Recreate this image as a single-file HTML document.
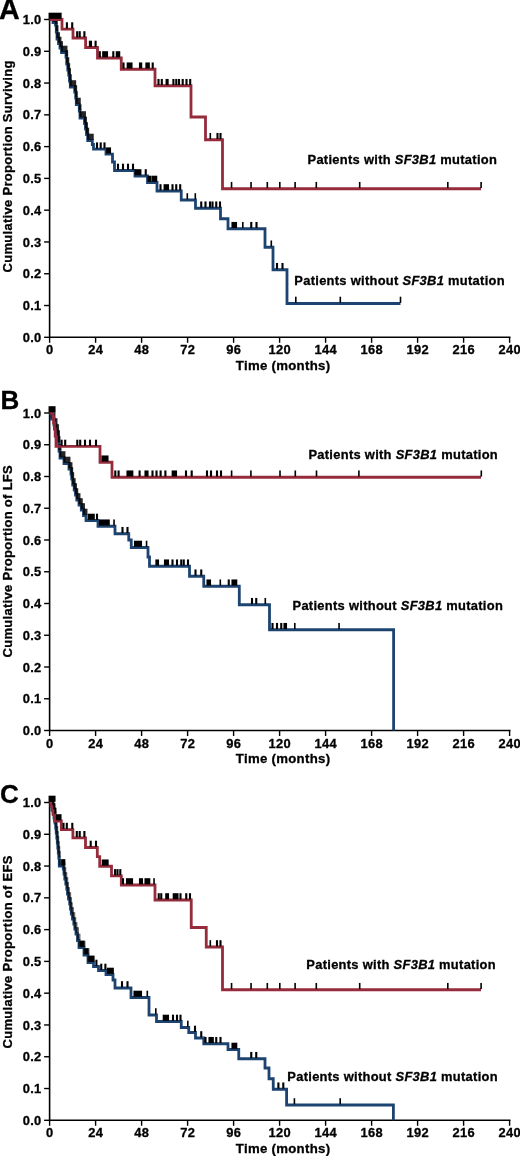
<!DOCTYPE html>
<html><head><meta charset="utf-8"><title>Kaplan-Meier curves</title>
<style>
html,body{margin:0;padding:0;background:#fff;}
svg{display:block;will-change:transform;font-family:"Liberation Sans",sans-serif;font-weight:bold;fill:#000;}
text{stroke:#000;stroke-width:0.3px;paint-order:stroke;}
.tl{font-size:12.9px;letter-spacing:0.3px;}
.al{font-size:13px;letter-spacing:0.3px;}
.lg{font-size:12.9px;letter-spacing:0.3px;}
.pl{font-size:26px;}
</style></head><body>
<svg width="520" height="1156" viewBox="0 0 520 1156">
<rect width="520" height="1156" fill="#fff"/>
<g>
<g stroke="#000" stroke-width="1.6" fill="none">
<path d="M49.60,18.60V337.30H510.50"/>
</g><g stroke="#000" stroke-width="1.4" fill="none">
<path d="M44.10,19.50H49.60"/>
<path d="M44.10,51.28H49.60"/>
<path d="M44.10,83.06H49.60"/>
<path d="M44.10,114.84H49.60"/>
<path d="M44.10,146.62H49.60"/>
<path d="M44.10,178.40H49.60"/>
<path d="M44.10,210.18H49.60"/>
<path d="M44.10,241.96H49.60"/>
<path d="M44.10,273.74H49.60"/>
<path d="M44.10,305.52H49.60"/>
<path d="M44.10,337.30H49.60"/>
<path d="M49.60,337.30V342.80"/>
<path d="M95.60,337.30V342.80"/>
<path d="M141.60,337.30V342.80"/>
<path d="M187.60,337.30V342.80"/>
<path d="M233.60,337.30V342.80"/>
<path d="M279.60,337.30V342.80"/>
<path d="M325.60,337.30V342.80"/>
<path d="M371.60,337.30V342.80"/>
<path d="M417.60,337.30V342.80"/>
<path d="M463.60,337.30V342.80"/>
<path d="M509.60,337.30V342.80"/>
</g>
<g class="tl" text-anchor="end">
<text x="41.50" y="24.05">1.0</text>
<text x="41.50" y="55.83">0.9</text>
<text x="41.50" y="87.61">0.8</text>
<text x="41.50" y="119.39">0.7</text>
<text x="41.50" y="151.17">0.6</text>
<text x="41.50" y="182.95">0.5</text>
<text x="41.50" y="214.73">0.4</text>
<text x="41.50" y="246.51">0.3</text>
<text x="41.50" y="278.29">0.2</text>
<text x="41.50" y="310.07">0.1</text>
<text x="41.50" y="341.85">0.0</text>
</g><g class="tl" text-anchor="middle">
<text x="49.80" y="354.30">0</text>
<text x="95.80" y="354.30">24</text>
<text x="141.80" y="354.30">48</text>
<text x="187.80" y="354.30">72</text>
<text x="233.80" y="354.30">96</text>
<text x="279.80" y="354.30">120</text>
<text x="325.80" y="354.30">144</text>
<text x="371.80" y="354.30">168</text>
<text x="417.80" y="354.30">192</text>
<text x="463.80" y="354.30">216</text>
<text x="509.80" y="354.30">240</text>
</g>
<text class="al" style="font-size:13.2px" text-anchor="middle" x="283.1" y="369.80">Time (months)</text>
<text class="al" text-anchor="middle" transform="translate(12.4,166.4) rotate(-90)">Cumulative Proportion Surviving</text>
<text class="pl" style="font-size:28.7px" x="-1" y="18.5">A</text>
<path d="M49.60,19.50H53.00V22.50H55.50V25.00H56.30V32.00H57.00V39.00H58.50V43.50H60.00V48.00H61.50V52.50H66.00V57.00H66.70V64.00H67.80V70.00H68.70V75.00H69.50V81.00H70.30V87.00H74.70V92.00H75.70V98.00H76.30V104.50H79.30V111.00H80.00V118.00H84.50V123.50H85.50V129.00H86.50V134.50H87.70V140.50H92.30V144.50H93.50V149.20H106.00V154.20H112.50V162.00H114.50V170.50H135.00V176.00H147.50V182.50H157.00V191.00H181.25V200.00H195.50V208.25H220.50V218.75H228.00V228.75H265.00V247.25H273.00V269.75H287.00V303.50H400.50V303.50" stroke="#1d4470" stroke-width="2.8" fill="none"/>
<g fill="#000" fill-opacity="0.85"><rect x="52.40" y="15.70" width="4.55" height="6.1"/>
<rect x="54.90" y="18.20" width="2.85" height="6.1"/>
<rect x="55.70" y="25.20" width="2.75" height="6.1"/>
<rect x="56.40" y="32.20" width="3.55" height="6.1"/>
<rect x="57.90" y="36.70" width="3.55" height="6.1"/>
<rect x="59.40" y="41.20" width="3.55" height="6.1"/>
<rect x="60.90" y="45.70" width="6.55" height="6.1"/>
<rect x="65.40" y="50.20" width="2.75" height="6.1"/>
<rect x="66.10" y="57.20" width="3.15" height="6.1"/>
<rect x="67.20" y="63.20" width="2.95" height="6.1"/>
<rect x="68.10" y="68.20" width="2.85" height="6.1"/>
<rect x="68.90" y="74.20" width="2.85" height="6.1"/>
<rect x="69.70" y="80.20" width="6.45" height="6.1"/>
<rect x="74.10" y="85.20" width="3.05" height="6.1"/>
<rect x="75.10" y="91.20" width="2.65" height="6.1"/>
<rect x="75.70" y="97.70" width="5.05" height="6.1"/>
<rect x="78.70" y="104.20" width="2.75" height="6.1"/>
<rect x="79.40" y="111.20" width="6.55" height="6.1"/>
<rect x="83.90" y="116.70" width="3.05" height="6.1"/>
<rect x="84.90" y="122.20" width="3.05" height="6.1"/>
<rect x="85.90" y="127.70" width="3.25" height="6.1"/>
<rect x="87.10" y="133.70" width="6.65" height="6.1"/></g>
<g fill="#000"><rect x="95.95" y="142.40" width="2.1" height="6.1"/>
<rect x="99.65" y="142.40" width="2.1" height="6.1"/>
<rect x="103.45" y="142.40" width="2.1" height="6.1"/>
<rect x="106.15" y="147.40" width="4.90" height="6.1"/>
<rect x="116.95" y="163.70" width="2.1" height="6.1"/>
<rect x="121.95" y="163.70" width="2.1" height="6.1"/>
<rect x="126.95" y="163.70" width="2.1" height="6.1"/>
<rect x="131.95" y="163.70" width="2.1" height="6.1"/>
<rect x="134.55" y="169.20" width="6.90" height="6.1"/>
<rect x="144.70" y="169.20" width="2.1" height="6.1"/>
<rect x="147.55" y="175.70" width="3.50" height="6.1"/>
<rect x="151.35" y="175.70" width="5.90" height="6.1"/>
<rect x="159.45" y="184.20" width="2.1" height="6.1"/>
<rect x="163.55" y="184.20" width="5.50" height="6.1"/>
<rect x="171.45" y="184.20" width="2.1" height="6.1"/>
<rect x="175.20" y="184.20" width="2.1" height="6.1"/>
<rect x="179.15" y="184.20" width="2.1" height="6.1"/>
<rect x="186.50" y="193.20" width="1.6" height="6.1"/>
<rect x="194.50" y="193.20" width="1.6" height="6.1"/>
<rect x="200.20" y="201.45" width="2.1" height="6.1"/>
<rect x="204.45" y="201.45" width="2.1" height="6.1"/>
<rect x="208.95" y="201.45" width="2.1" height="6.1"/>
<rect x="211.45" y="201.45" width="2.1" height="6.1"/>
<rect x="215.20" y="201.45" width="2.1" height="6.1"/>
<rect x="218.95" y="201.45" width="2.1" height="6.1"/>
<rect x="231.45" y="221.95" width="5.60" height="6.1"/>
<rect x="242.00" y="221.95" width="1.6" height="6.1"/>
<rect x="250.20" y="221.95" width="2.1" height="6.1"/>
<rect x="255.45" y="221.95" width="2.1" height="6.1"/>
<rect x="270.50" y="240.45" width="1.6" height="6.1"/>
<rect x="275.95" y="262.95" width="2.1" height="6.1"/>
<rect x="281.45" y="262.95" width="2.1" height="6.1"/>
<rect x="295.00" y="296.70" width="1.6" height="6.1"/>
<rect x="339.50" y="296.70" width="1.6" height="6.1"/>
<rect x="399.70" y="296.70" width="1.6" height="6.1"/></g>
<path d="M49.60,19.50H62.00V29.10H73.00V38.00H85.60V47.50H97.50V58.00H121.25V69.25H155.00V85.75H191.00V117.00H205.50V139.75H222.50V188.75H481.00V188.75" stroke="#962b3c" stroke-width="2.8" fill="none"/>
<g fill="#000"><rect x="48.55" y="12.70" width="13.10" height="6.1"/>
<rect x="65.85" y="22.30" width="2.1" height="6.1"/>
<rect x="71.15" y="22.30" width="2.1" height="6.1"/>
<rect x="76.15" y="31.20" width="2.1" height="6.1"/>
<rect x="78.65" y="31.20" width="2.1" height="6.1"/>
<rect x="83.35" y="31.20" width="2.1" height="6.1"/>
<rect x="88.85" y="40.70" width="3.20" height="6.1"/>
<rect x="94.55" y="40.70" width="2.1" height="6.1"/>
<rect x="98.75" y="51.20" width="2.1" height="6.1"/>
<rect x="102.15" y="51.20" width="5.90" height="6.1"/>
<rect x="112.25" y="51.20" width="2.1" height="6.1"/>
<rect x="115.75" y="51.20" width="4.50" height="6.1"/>
<rect x="122.45" y="62.45" width="2.1" height="6.1"/>
<rect x="126.65" y="62.45" width="5.90" height="6.1"/>
<rect x="138.95" y="62.45" width="3.30" height="6.1"/>
<rect x="145.35" y="62.45" width="4.50" height="6.1"/>
<rect x="151.65" y="62.45" width="2.1" height="6.1"/>
<rect x="157.45" y="78.95" width="2.1" height="6.1"/>
<rect x="160.75" y="78.95" width="2.1" height="6.1"/>
<rect x="165.55" y="78.95" width="3.10" height="6.1"/>
<rect x="172.35" y="78.95" width="2.1" height="6.1"/>
<rect x="175.25" y="78.95" width="2.1" height="6.1"/>
<rect x="177.95" y="78.95" width="2.1" height="6.1"/>
<rect x="181.65" y="78.95" width="2.1" height="6.1"/>
<rect x="185.45" y="78.95" width="2.1" height="6.1"/>
<rect x="189.15" y="78.95" width="2.1" height="6.1"/>
<rect x="209.50" y="132.95" width="1.6" height="6.1"/>
<rect x="216.45" y="132.95" width="2.1" height="6.1"/>
<rect x="219.45" y="132.95" width="2.1" height="6.1"/>
<rect x="230.75" y="181.95" width="1.6" height="6.1"/>
<rect x="250.25" y="181.95" width="1.6" height="6.1"/>
<rect x="266.50" y="181.95" width="1.6" height="6.1"/>
<rect x="279.00" y="181.95" width="1.6" height="6.1"/>
<rect x="294.30" y="181.95" width="1.6" height="6.1"/>
<rect x="315.50" y="181.95" width="1.6" height="6.1"/>
<rect x="358.90" y="181.95" width="1.6" height="6.1"/>
<rect x="447.00" y="181.95" width="1.6" height="6.1"/>
<rect x="480.30" y="181.95" width="1.6" height="6.1"/></g>
<text class="lg" x="307.5" y="164.2">Patients with <tspan font-style="italic">SF3B1</tspan> mutation</text>
<text class="lg" x="294.3" y="285.0">Patients without <tspan font-style="italic">SF3B1</tspan> mutation</text>
<g stroke="#000" stroke-width="1.6" fill="none">
<path d="M49.60,412.10V730.50H510.50"/>
</g><g stroke="#000" stroke-width="1.4" fill="none">
<path d="M44.10,413.00H49.60"/>
<path d="M44.10,444.75H49.60"/>
<path d="M44.10,476.50H49.60"/>
<path d="M44.10,508.25H49.60"/>
<path d="M44.10,540.00H49.60"/>
<path d="M44.10,571.75H49.60"/>
<path d="M44.10,603.50H49.60"/>
<path d="M44.10,635.25H49.60"/>
<path d="M44.10,667.00H49.60"/>
<path d="M44.10,698.75H49.60"/>
<path d="M44.10,730.50H49.60"/>
<path d="M49.60,730.50V736.00"/>
<path d="M95.60,730.50V736.00"/>
<path d="M141.60,730.50V736.00"/>
<path d="M187.60,730.50V736.00"/>
<path d="M233.60,730.50V736.00"/>
<path d="M279.60,730.50V736.00"/>
<path d="M325.60,730.50V736.00"/>
<path d="M371.60,730.50V736.00"/>
<path d="M417.60,730.50V736.00"/>
<path d="M463.60,730.50V736.00"/>
<path d="M509.60,730.50V736.00"/>
</g>
<g class="tl" text-anchor="end">
<text x="41.50" y="417.55">1.0</text>
<text x="41.50" y="449.30">0.9</text>
<text x="41.50" y="481.05">0.8</text>
<text x="41.50" y="512.80">0.7</text>
<text x="41.50" y="544.55">0.6</text>
<text x="41.50" y="576.30">0.5</text>
<text x="41.50" y="608.05">0.4</text>
<text x="41.50" y="639.80">0.3</text>
<text x="41.50" y="671.55">0.2</text>
<text x="41.50" y="703.30">0.1</text>
<text x="41.50" y="735.05">0.0</text>
</g><g class="tl" text-anchor="middle">
<text x="49.80" y="747.50">0</text>
<text x="95.80" y="747.50">24</text>
<text x="141.80" y="747.50">48</text>
<text x="187.80" y="747.50">72</text>
<text x="233.80" y="747.50">96</text>
<text x="279.80" y="747.50">120</text>
<text x="325.80" y="747.50">144</text>
<text x="371.80" y="747.50">168</text>
<text x="417.80" y="747.50">192</text>
<text x="463.80" y="747.50">216</text>
<text x="509.80" y="747.50">240</text>
</g>
<text class="al" style="font-size:13.2px" text-anchor="middle" x="283.1" y="763.00">Time (months)</text>
<text class="al" text-anchor="middle" transform="translate(12.4,561.2) rotate(-90)">Cumulative Proportion of LFS</text>
<text class="pl" x="0.6" y="408.7">B</text>
<path d="M49.60,413.00H51.30V419.00H54.00V425.00H56.00V431.00H57.50V437.00H58.50V443.00H59.00V451.00H60.00V458.00H64.00V463.50H69.00V469.00H71.00V474.00H71.70V479.00H72.70V485.00H74.20V490.00H75.50V495.00H76.80V500.00H79.00V505.00H81.30V510.00H83.50V515.50H86.00V520.50H98.00V526.25H115.00V533.75H128.75V540.00H131.25V547.50H148.00V557.00H149.50V566.25H189.50V576.25H203.75V586.25H239.30V604.75H269.50V629.75H393.60V730.50" stroke="#1d4470" stroke-width="2.8" fill="none"/>
<g fill="#000" fill-opacity="0.85"><rect x="50.70" y="412.20" width="4.75" height="6.1"/>
<rect x="53.40" y="418.20" width="4.05" height="6.1"/>
<rect x="55.40" y="424.20" width="3.55" height="6.1"/>
<rect x="56.90" y="430.20" width="3.05" height="6.1"/>
<rect x="57.90" y="436.20" width="2.55" height="6.1"/>
<rect x="58.40" y="444.20" width="3.05" height="6.1"/>
<rect x="59.40" y="451.20" width="6.05" height="6.1"/>
<rect x="63.40" y="456.70" width="7.05" height="6.1"/>
<rect x="68.40" y="462.20" width="4.05" height="6.1"/>
<rect x="70.40" y="467.20" width="2.75" height="6.1"/>
<rect x="71.10" y="472.20" width="3.05" height="6.1"/>
<rect x="72.10" y="478.20" width="3.55" height="6.1"/>
<rect x="73.60" y="483.20" width="3.35" height="6.1"/>
<rect x="74.90" y="488.20" width="3.35" height="6.1"/>
<rect x="76.20" y="493.20" width="4.25" height="6.1"/>
<rect x="78.40" y="498.20" width="4.35" height="6.1"/>
<rect x="80.70" y="503.20" width="4.25" height="6.1"/>
<rect x="82.90" y="508.70" width="4.55" height="6.1"/></g>
<g fill="#000"><rect x="87.70" y="513.70" width="7.10" height="6.1"/>
<rect x="95.95" y="513.70" width="2.1" height="6.1"/>
<rect x="98.95" y="519.45" width="10.85" height="6.1"/>
<rect x="113.25" y="519.45" width="1.6" height="6.1"/>
<rect x="121.45" y="526.95" width="2.1" height="6.1"/>
<rect x="126.45" y="526.95" width="2.1" height="6.1"/>
<rect x="133.95" y="540.70" width="8.10" height="6.1"/>
<rect x="145.75" y="540.70" width="1.6" height="6.1"/>
<rect x="155.35" y="559.45" width="3.70" height="6.1"/>
<rect x="163.95" y="559.45" width="5.10" height="6.1"/>
<rect x="171.45" y="559.45" width="2.1" height="6.1"/>
<rect x="175.95" y="559.45" width="2.1" height="6.1"/>
<rect x="180.20" y="559.45" width="2.1" height="6.1"/>
<rect x="182.70" y="559.45" width="2.1" height="6.1"/>
<rect x="186.95" y="559.45" width="2.1" height="6.1"/>
<rect x="194.45" y="569.45" width="2.1" height="6.1"/>
<rect x="200.20" y="569.45" width="2.1" height="6.1"/>
<rect x="206.45" y="579.45" width="4.60" height="6.1"/>
<rect x="219.50" y="579.45" width="1.6" height="6.1"/>
<rect x="227.70" y="579.45" width="2.1" height="6.1"/>
<rect x="231.45" y="579.45" width="5.85" height="6.1"/>
<rect x="250.95" y="597.95" width="2.1" height="6.1"/>
<rect x="255.20" y="597.95" width="2.1" height="6.1"/>
<rect x="264.50" y="597.95" width="1.6" height="6.1"/>
<rect x="271.45" y="622.95" width="2.1" height="6.1"/>
<rect x="275.95" y="622.95" width="2.1" height="6.1"/>
<rect x="280.20" y="622.95" width="2.1" height="6.1"/>
<rect x="283.45" y="622.95" width="3.60" height="6.1"/>
<rect x="294.00" y="622.95" width="1.6" height="6.1"/>
<rect x="338.25" y="622.95" width="1.6" height="6.1"/></g>
<path d="M49.60,413.00H52.80V417.00H53.60V423.00H54.40V429.00H55.20V436.00H56.00V446.30H100.00V462.25H112.00V477.25H481.00V477.25" stroke="#962b3c" stroke-width="2.8" fill="none"/>
<g fill="#000"><rect x="48.55" y="406.20" width="7.00" height="6.1"/>
<rect x="60.55" y="439.70" width="2.1" height="6.1"/>
<rect x="64.15" y="439.70" width="2.1" height="6.1"/>
<rect x="76.25" y="439.70" width="2.1" height="6.1"/>
<rect x="79.15" y="439.70" width="2.1" height="6.1"/>
<rect x="83.95" y="439.70" width="2.1" height="6.1"/>
<rect x="88.95" y="439.70" width="2.1" height="6.1"/>
<rect x="94.95" y="439.70" width="2.1" height="6.1"/>
<rect x="101.45" y="455.45" width="7.10" height="6.1"/>
<rect x="114.25" y="470.45" width="2.1" height="6.1"/>
<rect x="117.55" y="470.45" width="2.1" height="6.1"/>
<rect x="126.45" y="470.45" width="6.90" height="6.1"/>
<rect x="138.55" y="470.45" width="2.1" height="6.1"/>
<rect x="144.45" y="470.45" width="4.10" height="6.1"/>
<rect x="151.45" y="470.45" width="2.1" height="6.1"/>
<rect x="155.45" y="470.45" width="2.1" height="6.1"/>
<rect x="159.55" y="470.45" width="2.1" height="6.1"/>
<rect x="164.35" y="470.45" width="2.1" height="6.1"/>
<rect x="171.65" y="470.45" width="5.40" height="6.1"/>
<rect x="184.95" y="470.45" width="2.1" height="6.1"/>
<rect x="190.65" y="470.45" width="2.1" height="6.1"/>
<rect x="205.95" y="470.45" width="2.1" height="6.1"/>
<rect x="209.95" y="470.45" width="2.1" height="6.1"/>
<rect x="215.95" y="470.45" width="2.1" height="6.1"/>
<rect x="219.95" y="470.45" width="2.1" height="6.1"/>
<rect x="230.80" y="470.45" width="1.6" height="6.1"/>
<rect x="250.10" y="470.45" width="1.6" height="6.1"/>
<rect x="279.20" y="470.45" width="1.6" height="6.1"/>
<rect x="294.50" y="470.45" width="1.6" height="6.1"/>
<rect x="315.70" y="470.45" width="1.6" height="6.1"/>
<rect x="358.10" y="470.45" width="1.6" height="6.1"/>
<rect x="480.50" y="470.45" width="1.6" height="6.1"/></g>
<text class="lg" x="308.4" y="458.7">Patients with <tspan font-style="italic">SF3B1</tspan> mutation</text>
<text class="lg" x="292.5" y="609.8">Patients without <tspan font-style="italic">SF3B1</tspan> mutation</text>
<g stroke="#000" stroke-width="1.6" fill="none">
<path d="M49.60,801.60V1120.30H510.50"/>
</g><g stroke="#000" stroke-width="1.4" fill="none">
<path d="M44.10,802.50H49.60"/>
<path d="M44.10,834.28H49.60"/>
<path d="M44.10,866.06H49.60"/>
<path d="M44.10,897.84H49.60"/>
<path d="M44.10,929.62H49.60"/>
<path d="M44.10,961.40H49.60"/>
<path d="M44.10,993.18H49.60"/>
<path d="M44.10,1024.96H49.60"/>
<path d="M44.10,1056.74H49.60"/>
<path d="M44.10,1088.52H49.60"/>
<path d="M44.10,1120.30H49.60"/>
<path d="M49.60,1120.30V1125.80"/>
<path d="M95.60,1120.30V1125.80"/>
<path d="M141.60,1120.30V1125.80"/>
<path d="M187.60,1120.30V1125.80"/>
<path d="M233.60,1120.30V1125.80"/>
<path d="M279.60,1120.30V1125.80"/>
<path d="M325.60,1120.30V1125.80"/>
<path d="M371.60,1120.30V1125.80"/>
<path d="M417.60,1120.30V1125.80"/>
<path d="M463.60,1120.30V1125.80"/>
<path d="M509.60,1120.30V1125.80"/>
</g>
<g class="tl" text-anchor="end">
<text x="41.50" y="807.05">1.0</text>
<text x="41.50" y="838.83">0.9</text>
<text x="41.50" y="870.61">0.8</text>
<text x="41.50" y="902.39">0.7</text>
<text x="41.50" y="934.17">0.6</text>
<text x="41.50" y="965.95">0.5</text>
<text x="41.50" y="997.73">0.4</text>
<text x="41.50" y="1029.51">0.3</text>
<text x="41.50" y="1061.29">0.2</text>
<text x="41.50" y="1093.07">0.1</text>
<text x="41.50" y="1124.85">0.0</text>
</g><g class="tl" text-anchor="middle">
<text x="49.80" y="1137.30">0</text>
<text x="95.80" y="1137.30">24</text>
<text x="141.80" y="1137.30">48</text>
<text x="187.80" y="1137.30">72</text>
<text x="233.80" y="1137.30">96</text>
<text x="279.80" y="1137.30">120</text>
<text x="325.80" y="1137.30">144</text>
<text x="371.80" y="1137.30">168</text>
<text x="417.80" y="1137.30">192</text>
<text x="463.80" y="1137.30">216</text>
<text x="509.80" y="1137.30">240</text>
</g>
<text class="al" style="font-size:13.2px" text-anchor="middle" x="283.1" y="1152.80">Time (months)</text>
<text class="al" text-anchor="middle" transform="translate(12.4,951.9) rotate(-90)">Cumulative Proportion of EFS</text>
<text class="pl" x="0.1" y="802.7">C</text>
<path d="M49.60,802.50H51.00V806.00H52.00V810.00H53.00V814.00H54.00V818.00H55.00V823.00H55.70V828.00H56.20V833.00H56.80V838.00H57.30V843.00H57.80V848.00H58.30V853.00H58.80V858.00H59.30V866.00H63.30V869.00H64.00V874.00H64.80V879.00H65.80V884.00H66.80V889.00H67.50V894.00H68.50V899.00H69.70V904.00H70.50V909.00H71.30V914.00H72.50V919.00H73.80V924.00H74.80V929.00H76.00V934.00H77.50V940.50H79.00V947.50H84.00V955.00H88.00V962.50H93.50V966.50H98.50V970.50H106.00V974.50H113.00V980.00H115.00V988.00H131.00V997.50H149.00V1015.00H156.50V1021.50H181.25V1027.50H188.75V1032.50H195.50V1038.00H203.75V1043.75H228.00V1049.50H238.75V1058.75H265.00V1068.00H269.00V1078.75H273.25V1089.25H286.60V1105.00H393.40V1120.30" stroke="#1d4470" stroke-width="2.8" fill="none"/>
<g fill="#000" fill-opacity="0.6"><rect x="50.40" y="799.20" width="3.05" height="6.1"/>
<rect x="51.40" y="803.20" width="3.05" height="6.1"/>
<rect x="52.40" y="807.20" width="3.05" height="6.1"/>
<rect x="53.40" y="811.20" width="3.05" height="6.1"/>
<rect x="54.40" y="816.20" width="2.75" height="6.1"/>
<rect x="55.10" y="821.20" width="2.55" height="6.1"/>
<rect x="55.60" y="826.20" width="2.65" height="6.1"/>
<rect x="56.20" y="831.20" width="2.55" height="6.1"/>
<rect x="56.70" y="836.20" width="2.55" height="6.1"/>
<rect x="57.20" y="841.20" width="2.55" height="6.1"/>
<rect x="57.70" y="846.20" width="2.55" height="6.1"/>
<rect x="58.20" y="851.20" width="2.55" height="6.1"/>
<rect x="58.70" y="859.20" width="6.05" height="6.1"/>
<rect x="62.70" y="862.20" width="2.75" height="6.1"/>
<rect x="63.40" y="867.20" width="2.85" height="6.1"/>
<rect x="64.20" y="872.20" width="3.05" height="6.1"/>
<rect x="65.20" y="877.20" width="3.05" height="6.1"/>
<rect x="66.20" y="882.20" width="2.75" height="6.1"/>
<rect x="66.90" y="887.20" width="3.05" height="6.1"/>
<rect x="67.90" y="892.20" width="3.25" height="6.1"/>
<rect x="69.10" y="897.20" width="2.85" height="6.1"/>
<rect x="69.90" y="902.20" width="2.85" height="6.1"/>
<rect x="70.70" y="907.20" width="3.25" height="6.1"/>
<rect x="71.90" y="912.20" width="3.35" height="6.1"/>
<rect x="73.20" y="917.20" width="3.05" height="6.1"/>
<rect x="74.20" y="922.20" width="3.25" height="6.1"/>
<rect x="75.40" y="927.20" width="3.55" height="6.1"/>
<rect x="76.90" y="933.70" width="3.55" height="6.1"/>
<rect x="78.40" y="940.70" width="7.05" height="6.1"/>
<rect x="83.40" y="948.20" width="6.05" height="6.1"/>
<rect x="87.40" y="955.70" width="7.55" height="6.1"/></g>
<g fill="#000"><rect x="61.25" y="859.20" width="4.10" height="6.1"/>
<rect x="79.95" y="940.70" width="4.60" height="6.1"/>
<rect x="84.45" y="948.20" width="4.10" height="6.1"/>
<rect x="88.45" y="955.70" width="5.60" height="6.1"/>
<rect x="95.35" y="959.70" width="2.1" height="6.1"/>
<rect x="100.20" y="963.70" width="2.1" height="6.1"/>
<rect x="104.35" y="963.70" width="2.1" height="6.1"/>
<rect x="106.95" y="967.70" width="6.90" height="6.1"/>
<rect x="120.95" y="981.20" width="2.1" height="6.1"/>
<rect x="126.45" y="981.20" width="2.1" height="6.1"/>
<rect x="133.45" y="990.70" width="8.60" height="6.1"/>
<rect x="146.50" y="990.70" width="1.6" height="6.1"/>
<rect x="155.00" y="1008.20" width="1.6" height="6.1"/>
<rect x="162.70" y="1014.70" width="6.35" height="6.1"/>
<rect x="171.95" y="1014.70" width="2.1" height="6.1"/>
<rect x="175.95" y="1014.70" width="2.1" height="6.1"/>
<rect x="179.45" y="1014.70" width="2.1" height="6.1"/>
<rect x="187.00" y="1020.70" width="1.6" height="6.1"/>
<rect x="193.95" y="1025.70" width="2.1" height="6.1"/>
<rect x="200.20" y="1031.20" width="2.1" height="6.1"/>
<rect x="204.45" y="1036.95" width="2.1" height="6.1"/>
<rect x="208.45" y="1036.95" width="3.60" height="6.1"/>
<rect x="211.75" y="1036.95" width="2.1" height="6.1"/>
<rect x="215.20" y="1036.95" width="2.1" height="6.1"/>
<rect x="219.45" y="1036.95" width="2.1" height="6.1"/>
<rect x="231.45" y="1042.70" width="5.85" height="6.1"/>
<rect x="250.20" y="1051.95" width="2.1" height="6.1"/>
<rect x="255.20" y="1051.95" width="2.1" height="6.1"/>
<rect x="277.35" y="1082.45" width="2.1" height="6.1"/>
<rect x="282.25" y="1082.45" width="2.1" height="6.1"/>
<rect x="293.60" y="1098.20" width="1.6" height="6.1"/>
<rect x="339.40" y="1098.20" width="1.6" height="6.1"/></g>
<path d="M49.60,802.50H51.50V806.00H52.50V810.00H53.50V814.50H54.50V821.00H61.30V829.60H72.90V837.80H85.50V847.50H97.30V856.60H99.70V866.25H111.50V875.90H121.30V885.00H155.00V900.00H191.25V927.50H206.25V947.00H222.50V989.75H481.00V989.75" stroke="#962b3c" stroke-width="2.8" fill="none"/>
<g fill="#000"><rect x="48.55" y="795.70" width="7.00" height="6.1"/>
<rect x="52.35" y="799.20" width="2.1" height="6.1"/>
<rect x="53.35" y="803.20" width="2.1" height="6.1"/>
<rect x="54.35" y="807.70" width="2.1" height="6.1"/>
<rect x="55.95" y="814.20" width="5.60" height="6.1"/>
<rect x="62.45" y="822.80" width="2.1" height="6.1"/>
<rect x="65.75" y="822.80" width="2.1" height="6.1"/>
<rect x="71.25" y="822.80" width="2.1" height="6.1"/>
<rect x="75.75" y="831.00" width="2.1" height="6.1"/>
<rect x="78.65" y="831.00" width="2.1" height="6.1"/>
<rect x="83.35" y="831.00" width="2.1" height="6.1"/>
<rect x="89.65" y="840.70" width="2.1" height="6.1"/>
<rect x="94.95" y="840.70" width="2.1" height="6.1"/>
<rect x="101.75" y="859.45" width="6.90" height="6.1"/>
<rect x="114.05" y="869.10" width="2.1" height="6.1"/>
<rect x="116.45" y="869.10" width="2.1" height="6.1"/>
<rect x="119.25" y="869.10" width="2.1" height="6.1"/>
<rect x="121.95" y="878.20" width="2.1" height="6.1"/>
<rect x="125.95" y="878.20" width="7.10" height="6.1"/>
<rect x="138.95" y="878.20" width="4.10" height="6.1"/>
<rect x="144.45" y="878.20" width="5.85" height="6.1"/>
<rect x="153.25" y="878.20" width="1.6" height="6.1"/>
<rect x="157.70" y="893.20" width="2.1" height="6.1"/>
<rect x="160.20" y="893.20" width="2.1" height="6.1"/>
<rect x="165.20" y="893.20" width="3.85" height="6.1"/>
<rect x="172.70" y="893.20" width="5.85" height="6.1"/>
<rect x="179.45" y="893.20" width="2.1" height="6.1"/>
<rect x="185.20" y="893.20" width="2.1" height="6.1"/>
<rect x="188.95" y="893.20" width="2.1" height="6.1"/>
<rect x="209.50" y="940.20" width="1.6" height="6.1"/>
<rect x="215.95" y="940.20" width="2.1" height="6.1"/>
<rect x="219.45" y="940.20" width="2.1" height="6.1"/>
<rect x="230.75" y="982.95" width="1.6" height="6.1"/>
<rect x="250.25" y="982.95" width="1.6" height="6.1"/>
<rect x="266.50" y="982.95" width="1.6" height="6.1"/>
<rect x="279.00" y="982.95" width="1.6" height="6.1"/>
<rect x="294.30" y="982.95" width="1.6" height="6.1"/>
<rect x="315.50" y="982.95" width="1.6" height="6.1"/>
<rect x="358.90" y="982.95" width="1.6" height="6.1"/>
<rect x="447.00" y="982.95" width="1.6" height="6.1"/>
<rect x="480.30" y="982.95" width="1.6" height="6.1"/></g>
<text class="lg" x="306.3" y="969.3">Patients with <tspan font-style="italic">SF3B1</tspan> mutation</text>
<text class="lg" x="287.3" y="1080.7">Patients without <tspan font-style="italic">SF3B1</tspan> mutation</text>
</g>
</svg>
</body></html>
